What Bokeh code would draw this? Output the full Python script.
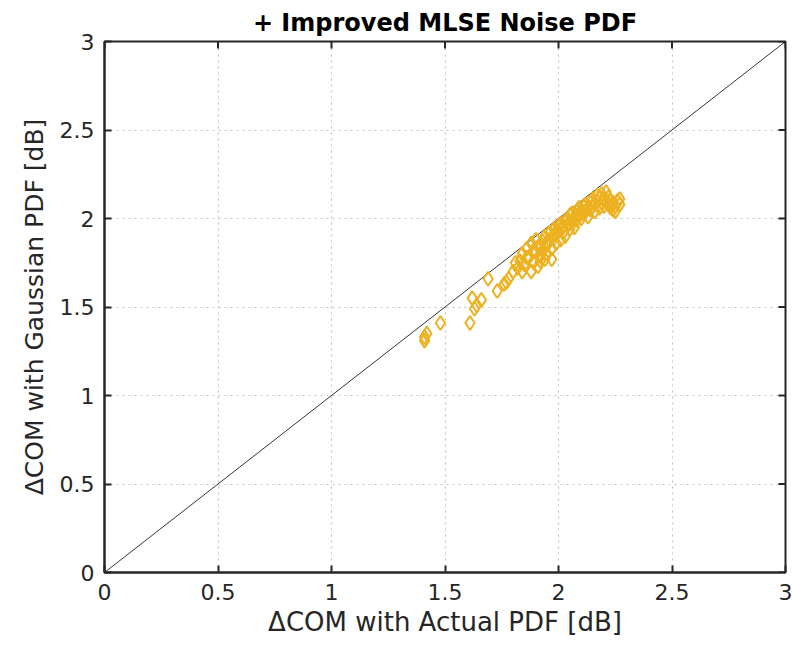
from bokeh.plotting import figure
from bokeh.models import Range1d, FixedTicker
from bokeh.embed import file_html
from bokeh.resources import INLINE
import math

# ΔCOM with Actual PDF [dB]
actual = [
    1.41, 1.42, 1.41, 1.48, 1.61, 1.62, 1.64, 1.66, 1.63, 1.69, 1.73, 1.76, 1.77, 1.78,
    1.80, 1.81, 1.82, 1.83, 1.84, 1.84, 1.85, 1.86, 1.87, 1.88, 1.88, 1.89, 1.90, 1.90,
    1.91, 1.91, 1.92, 1.92, 1.93, 1.93, 1.94, 1.94, 1.95, 1.95, 1.96, 1.96, 1.97, 1.97,
    1.98, 1.98, 1.99, 1.99, 2.00, 2.00, 2.01, 2.01, 2.02, 2.02, 2.03, 2.03, 2.04, 2.04,
    2.05, 2.05, 2.06, 2.06, 2.07, 2.07, 2.08, 2.08, 2.09, 2.09, 2.10, 2.10, 2.11, 2.11,
    2.12, 2.12, 2.13, 2.13, 2.14, 2.14, 2.15, 2.15, 2.16, 2.16, 2.17, 2.17, 2.18, 2.18,
    2.19, 2.19, 2.20, 2.20, 2.21, 2.21, 2.22, 2.22, 2.23, 2.23, 2.24, 2.24, 2.25, 2.25,
    2.26, 2.27, 2.27, 1.86, 1.89, 1.92, 1.95, 1.98, 2.01, 2.04, 2.07, 2.10, 2.13, 2.16,
]
# ΔCOM with Gaussian PDF [dB]
gaussian = [
    1.33, 1.35, 1.31, 1.41, 1.41, 1.55, 1.51, 1.54, 1.49, 1.66, 1.59, 1.63, 1.64, 1.66,
    1.70, 1.75, 1.72, 1.76, 1.80, 1.70, 1.74, 1.83, 1.78, 1.70, 1.86, 1.75, 1.81, 1.88,
    1.73, 1.84, 1.79, 1.76, 1.87, 1.82, 1.90, 1.77, 1.85, 1.80, 1.92, 1.88, 1.77, 1.83,
    1.94, 1.89, 1.86, 1.91, 1.96, 1.93, 1.88, 1.97, 1.92, 1.95, 1.99, 1.90, 1.96, 2.00,
    1.94, 2.02, 1.98, 2.03, 1.95, 2.01, 2.04, 1.99, 2.02, 2.06, 2.00, 2.05, 2.03, 2.07,
    2.04, 2.08, 2.01, 2.06, 2.09, 2.05, 2.07, 2.11, 2.08, 2.04, 2.10, 2.13, 2.06, 2.12,
    2.09, 2.14, 2.11, 2.07, 2.10, 2.15, 2.08, 2.12, 2.06, 2.10, 2.05, 2.09, 2.07, 2.04,
    2.10, 2.08, 2.11, 1.78, 1.82, 1.84, 1.87, 1.91, 1.94, 1.97, 2.00, 2.03, 2.06, 2.09,
]
ref_line = [0, 3]
ticks = [0, 0.5, 1, 1.5, 2, 2.5, 3]

FONT = "DejaVu Sans"
TXT = "#262626"

p = figure(width=792, height=645, output_backend="svg", toolbar_location=None,
           x_range=Range1d(0, 3), y_range=Range1d(0, 3),
           title="+ Improved MLSE Noise PDF",
           min_border_left=104, min_border_right=7, min_border_top=41, min_border_bottom=73)

p.title.align = "center"
p.title.text_font = FONT
p.title.text_font_size = "24px"
p.title.text_font_style = "bold"
p.title.text_color = "#000000"
p.title.offset = 0

p.xaxis.axis_label = "ΔCOM with Actual PDF [dB]"
p.yaxis.axis_label = "ΔCOM with Gaussian PDF [dB]"
for ax in (p.xaxis[0], p.yaxis[0]):
    ax.ticker = FixedTicker(ticks=ticks)
    ax.axis_label_text_font = FONT
    ax.axis_label_text_font_size = "25px"
    ax.axis_label_text_font_style = "normal"
    ax.axis_label_text_color = TXT
    ax.major_label_text_font = FONT
    ax.major_label_text_font_size = "22px"
    ax.major_label_text_color = TXT
    ax.axis_line_width = 2
    ax.axis_line_color = "#262626"
    ax.major_tick_in = 7
    ax.major_tick_out = 0
    ax.major_tick_line_width = 2
    ax.major_tick_line_color = "#262626"
    ax.minor_tick_line_color = None
p.xaxis[0].axis_label_text_font_size = "26px"
p.xaxis[0].major_label_standoff = 11
p.yaxis[0].major_label_standoff = 10
p.xaxis[0].axis_label_standoff = 4
p.yaxis[0].axis_label_standoff = 8

p.grid.ticker = FixedTicker(ticks=ticks)
p.grid.grid_line_color = "#c4c4c4"
p.grid.grid_line_dash = "2 4"
p.grid.grid_line_width = 1.2
p.outline_line_color = "#262626"
p.outline_line_width = 2
p.background_fill_color = "white"

# inward ticks on the top and right edges of the box
top_y = [3] * len(ticks)
right_x = [3] * len(ticks)
p.ray(x=ticks, y=top_y, length=7, length_units="screen", angle=-math.pi / 2,
      line_color="#262626", line_width=2)
p.ray(x=right_x, y=ticks, length=7, length_units="screen", angle=math.pi,
      line_color="#262626", line_width=2)

p.line(ref_line, ref_line, line_color="black", line_width=0.8)
p.scatter(actual, gaussian, marker="diamond", size=14, fill_color=None,
          line_color="#EDB120", line_width=2)

open("out.html", "w").write(file_html(p, INLINE))
